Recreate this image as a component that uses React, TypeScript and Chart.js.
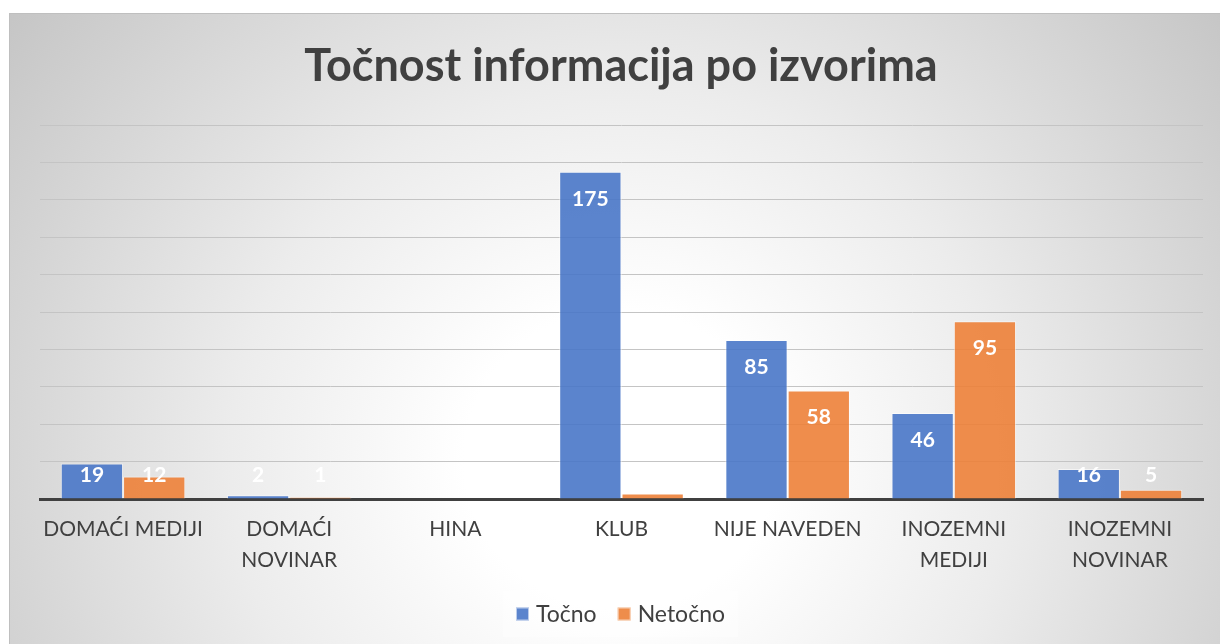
import React, { useEffect, useRef } from "react";
import { Chart, registerables } from "chart.js";

Chart.register(...registerables);

const chartTitle = "Točnost informacija po izvorima";
const categories: string[][] = [
  ["DOMAĆI MEDIJI"],
  ["DOMAĆI", "NOVINAR"],
  ["HINA"],
  ["KLUB"],
  ["NIJE NAVEDEN"],
  ["INOZEMNI", "MEDIJI"],
  ["INOZEMNI", "NOVINAR"],
];
const seriesNames = ["Točno", "Netočno"];
const tocno = [19, 2, 0, 175, 85, 46, 16];
const netocno = [12, 1, 0, 3, 58, 95, 5];
const yMin = 0;
const yMax = 200;
const yStep = 20;

const BLUE = "rgba(73,119,200,0.9)";
const ORANGE = "rgba(237,129,56,0.9)";
const BLUE_SOLID = "#5B84CD";
const ORANGE_SOLID = "#EE8D4B";
const TEXT = "#404040";
const FONT = "Lato, 'Open Sans', sans-serif";

const W = 1228;
const H = 638;

const overlayPlugin = {
  id: "overlay",
  afterDatasetsDraw(chart: any) {
    const ctx = chart.ctx;
    const yScale = chart.scales.y;
    const base = yScale.getPixelForValue(0);
    ctx.save();
    ctx.fillStyle = "#ffffff";
    ctx.font = `bold 21px ${FONT}`;
    ctx.textAlign = "center";
    ctx.textBaseline = "middle";
    chart.data.datasets.forEach((ds: any, di: number) => {
      const meta = chart.getDatasetMeta(di);
      meta.data.forEach((el: any, i: number) => {
        const v = ds.data[i];
        if (!v) return;
        const y = Math.min(el.y + 27, base - 24);
        ctx.fillText(String(v), el.x, y);
      });
    });
    ctx.restore();
  },
  afterDraw(chart: any) {
    const ctx = chart.ctx;
    ctx.save();
    // title
    ctx.fillStyle = TEXT;
    ctx.font = `bold 45px ${FONT}`;
    ctx.textAlign = "center";
    ctx.textBaseline = "alphabetic";
    ctx.fillText(chartTitle, W / 2 - 3, 67);

    // legend
    ctx.font = `23px ${FONT}`;
    const colors = [BLUE_SOLID, ORANGE_SOLID];
    const box = 13;
    const gapText = 7;
    const gapItem = 21;
    const widths = seriesNames.map((n) => ctx.measureText(n).width);
    let total = 0;
    widths.forEach((w, i) => {
      total += box + gapText + w + (i < widths.length - 1 ? gapItem : 0);
    });
    const cx = 610.5;
    const cy = 600;
    ctx.fillStyle = "rgba(255,255,255,0.35)";
    ctx.fillRect(493, 577, 235, 46);
    let x = cx - total / 2;
    ctx.textAlign = "left";
    ctx.textBaseline = "middle";
    seriesNames.forEach((n, i) => {
      ctx.fillStyle = colors[i];
      ctx.fillRect(x, cy - box / 2, box, box);
      ctx.strokeStyle = "rgba(255,255,255,0.6)";
      ctx.lineWidth = 1;
      ctx.strokeRect(x + 0.5, cy - box / 2 + 0.5, box - 1, box - 1);
      x += box + gapText;
      ctx.fillStyle = TEXT;
      ctx.fillText(n, x, cy + 1);
      x += widths[i] + gapItem;
    });
    ctx.restore();
  },
};

export default function App() {
  const ref = useRef<HTMLCanvasElement | null>(null);
  useEffect(() => {
    if (!ref.current) return;
    const chart = new Chart(ref.current, {
      type: "bar",
      data: {
        labels: categories,
        datasets: [
          {
            label: seriesNames[0],
            data: tocno,
            backgroundColor: BLUE,
            borderColor: "rgba(255,255,255,0.55)",
            borderWidth: 1,
          },
          {
            label: seriesNames[1],
            data: netocno,
            backgroundColor: ORANGE,
            borderColor: "rgba(255,255,255,0.55)",
            borderWidth: 1,
          },
        ],
      },
      options: {
        animation: false,
        responsive: false,
        maintainAspectRatio: false,
        events: [],
        layout: { padding: { left: 30, right: 35, top: 111, bottom: 33 } },
        datasets: {
          bar: { categoryPercentage: 0.75, barPercentage: 1 },
        },
        plugins: {
          legend: { display: false },
          title: { display: false },
          tooltip: { enabled: false },
        },
        scales: {
          x: {
            grid: { display: false, drawTicks: false },
            border: { display: true, color: "#404040", width: 3 },
            ticks: {
              color: TEXT,
              font: { family: FONT, size: 21, lineHeight: 1.48 },
              padding: 15,
              maxRotation: 0,
              minRotation: 0,
              autoSkip: false,
            },
            afterFit: (s: any) => {
              s.height = 120;
            },
          },
          y: {
            min: yMin,
            max: yMax,
            ticks: { display: false, stepSize: yStep },
            grid: { color: "#c4c4c4", lineWidth: 1, drawTicks: false },
            border: { display: false },
            afterFit: (s: any) => {
              s.width = 0;
            },
          },
        },
      },
      plugins: [overlayPlugin],
    });
    return () => chart.destroy();
  }, []);

  return (
    <div
      style={{
        position: "fixed",
        left: 9,
        top: 13,
        width: W,
        height: H,
        border: "1px solid #bfbfbf",
        background:
          "radial-gradient(ellipse 780px 750px at 610px 446px, #ffffff 0%, #ffffff 20%, #ececec 50%, #d8d8d8 75%, #c4c4c4 100%)",
        overflow: "hidden",
      }}
    >
      <canvas ref={ref} width={W} height={H} style={{ display: "block", width: W, height: H }} />
    </div>
  );
}
